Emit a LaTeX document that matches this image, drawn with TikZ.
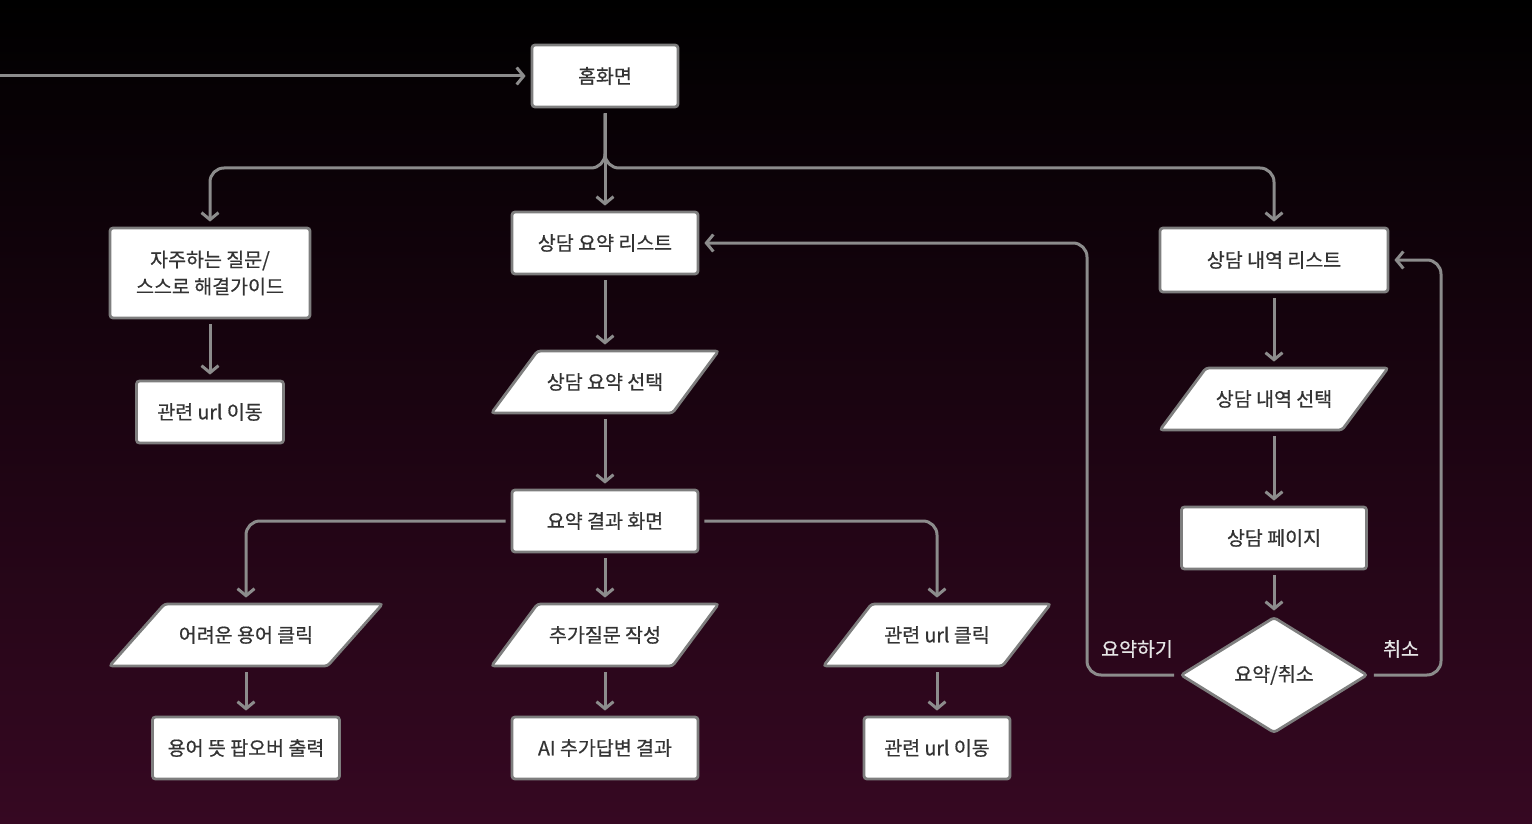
\documentclass[tikz,border=0pt]{standalone}
\usepackage{fontspec}
\setmainfont{Noto Sans CJK KR}[BoldFont={Noto Sans CJK KR}, BoldFeatures={FakeBold=0.6}]
\usetikzlibrary{shapes.geometric,arrows.meta}
\definecolor{bgbot}{HTML}{360822}
\definecolor{bordc}{HTML}{7E7E7E}
\definecolor{linec}{HTML}{8C8C8C}
\definecolor{txtc}{HTML}{333333}
\definecolor{lblc}{HTML}{E6E6E6}
\tikzset{
  box/.style={draw=bordc, line width=2.8pt, fill=white, rounded corners=3pt,
    minimum height=62pt, text=txtc, font=\fontsize{19.5}{27}\selectfont\bfseries, inner sep=0pt, align=center},
  ptext/.style={box, draw=none, fill=none},
  pshape/.style={draw=bordc, line width=2.8pt, fill=white, rounded corners=3pt},
  dia/.style={box, diamond, minimum width=187pt, minimum height=116pt},
  conn/.style={draw=linec, line width=3pt, rounded corners=14pt,
    -{Straight Barb[length=7pt,width=17pt,line width=3pt]}, shorten >=5pt, shorten <=5pt},
  lbl/.style={text=lblc, font=\fontsize{19.5}{22}\selectfont\bfseries, inner sep=0pt},
}
% #1 name, #2 x, #3 y, #4 width, #5 slant, #6 text
\newcommand{\paranode}[6]{%
  \path[pshape] ([shift={({-#4/2},31)}]#2,#3) -- ([shift={({#4/2-#5},31)}]#2,#3)
     -- ([shift={({#4/2},-31)}]#2,#3) -- ([shift={({-#4/2+#5},-31)}]#2,#3) -- cycle;
  \node[ptext, minimum width=#4pt] (#1) at (#2,#3) {#6};}
\begin{document}
\begin{tikzpicture}[x=1pt,y=-1pt]
\shade[top color=black, bottom color=bgbot] (0,0) rectangle (1532,824);
\useasboundingbox (0,0) rectangle (1532,824);

\node[box, minimum width=146pt] (home) at (605,76) {홈화면};
\node[box, minimum width=200pt, minimum height=90pt] (faq) at (210,273) {자주하는 질문/\\스스로 해결가이드};
\node[box, minimum width=147pt] (faqurl) at (210,412) {관련 url 이동};
\node[box, minimum width=186pt] (sumlist) at (605,243) {상담 요약 리스트};
\paranode{sumsel}{605}{382}{227}{46}{상담 요약 선택}
\node[box, minimum width=186pt] (result) at (605,521) {요약 결과 화면};
\paranode{hard}{246}{635}{273}{55}{어려운 용어 클릭}
\paranode{addq}{605}{635}{227}{46}{추가질문 작성}
\paranode{urlclick}{937}{635}{227}{48}{관련 url 클릭}
\node[box, minimum width=187pt] (pop) at (246,748) {용어 뜻 팝오버 출력};
\node[box, minimum width=186pt] (aians) at (605,748) {AI 추가답변 결과};
\node[box, minimum width=146pt] (urlgo) at (937,748) {관련 url 이동};
\node[box, minimum width=228pt, minimum height=64pt] (histlist) at (1274,260) {상담 내역 리스트};
\paranode{histsel}{1274}{399}{228}{46}{상담 내역 선택}
\node[box, minimum width=185pt] (page) at (1274,538) {상담 페이지};
\node[dia] (dec) at (1274,675) {요약/취소};

\node[lbl] (lsum) at (1137,649) {요약하기};
\node[lbl] (lcancel) at (1401,649) {취소};

\coordinate (start) at (0,76);
\coordinate (fork) at (605,168);
\coordinate (lx) at (1087,0);
\coordinate (rx) at (1441,0);

\draw[conn, shorten <=0pt] (start) -- (home.west);
\draw[conn] (home.south) -- (sumlist.north);
\draw[conn] (home.south) -- (fork) -| (faq.north);
\draw[conn] (home.south) -- (fork) -| (histlist.north);
\draw[conn] (faq.south) -- (faqurl.north);
\draw[conn] (sumlist.south) -- (sumsel.north);
\draw[conn] (sumsel.south) -- (result.north);
\draw[conn] (result.south) -- (addq.north);
\draw[conn] (result.west) -| (hard.north);
\draw[conn] (result.east) -| (urlclick.north);
\draw[conn] (hard.south) -- (pop.north);
\draw[conn] (addq.south) -- (aians.north);
\draw[conn] (urlclick.south) -- (urlgo.north);
\draw[conn] (histlist.south) -- (histsel.north);
\draw[conn] (histsel.south) -- (page.north);
\draw[conn] (page.south) -- (dec.north);
\draw[conn] (dec.west) -| (lx |- sumlist.east) -- (sumlist.east);
\draw[conn] (dec.east) -| (rx |- histlist.east) -- (histlist.east);
\end{tikzpicture}
\end{document}
